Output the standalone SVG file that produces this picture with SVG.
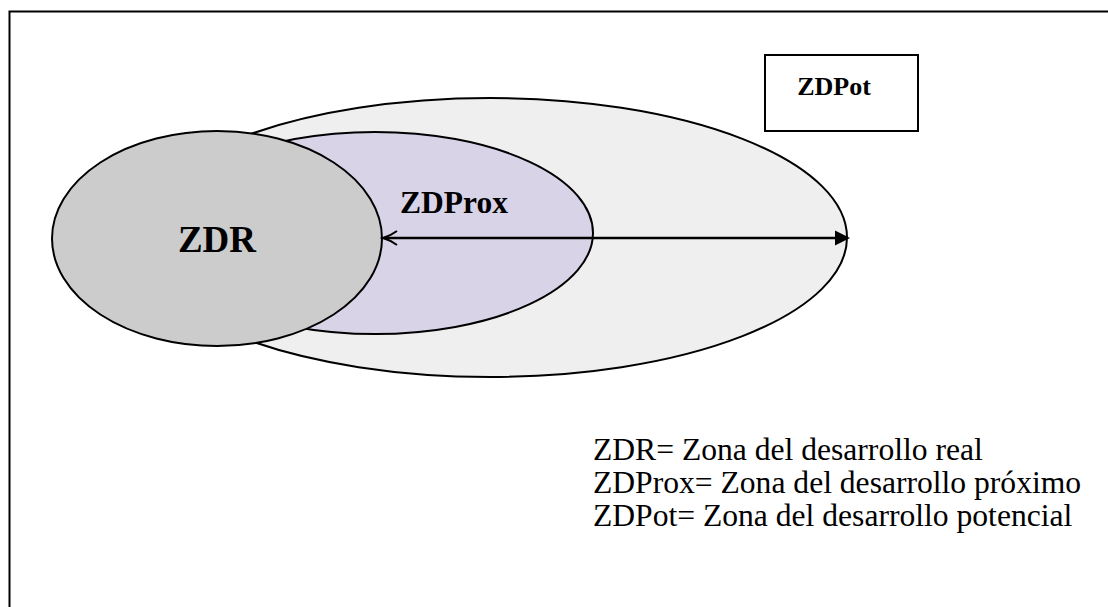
<svg xmlns="http://www.w3.org/2000/svg" width="1108" height="607" viewBox="0 0 1108 607">
<style>
.shape{stroke:#000;stroke-width:2}
</style>
<rect width="1108" height="607" fill="#fff"/>
<rect x="9.5" y="11.5" width="1120" height="620" fill="none" stroke="#000" stroke-width="2"/>
<g id="zdpot-zone">
<ellipse class="shape" cx="490" cy="237.5" rx="357" ry="139.5" fill="#efefef"/>
</g>
<g id="zdprox">
<ellipse class="shape" cx="375" cy="233" rx="218" ry="101" fill="#d9d3e8"/>
<text x="400" y="213" font-family="Liberation Serif, Times New Roman, serif" font-weight="bold" font-size="31.5" fill="#000">ZDProx</text>
</g>
<g id="zdr">
<ellipse class="shape" cx="217" cy="238.5" rx="165" ry="107.5" fill="#cccccc"/>
<text x="217" y="252" font-family="Liberation Serif, Times New Roman, serif" font-weight="bold" font-size="37" text-anchor="middle" fill="#000">ZDR</text>
</g>
<g id="connectors">
<line x1="384" y1="238" x2="838" y2="238" stroke="#000" stroke-width="2.5"/>
<path d="M397,231 Q390,236 383,238 Q390,240 397,245" fill="none" stroke="#000" stroke-width="2"/>
<path d="M850,238 L835,230.5 L835,245.5 Z" fill="#000"/>
</g>
<g id="zdpot">
<rect x="765" y="55" width="153" height="76" fill="#fff" stroke="#000" stroke-width="2"/>
<text x="834" y="95" font-family="Liberation Serif, Times New Roman, serif" font-weight="bold" font-size="26" text-anchor="middle" fill="#000">ZDPot</text>
</g>
<g id="legend" font-family="Liberation Serif, Times New Roman, serif" font-size="31.6" fill="#000">
<text x="593" y="460">ZDR= Zona del desarrollo real</text>
<text x="593" y="493">ZDProx= Zona del desarrollo próximo</text>
<text x="593" y="526">ZDPot= Zona del desarrollo potencial</text>
</g>
</svg>
